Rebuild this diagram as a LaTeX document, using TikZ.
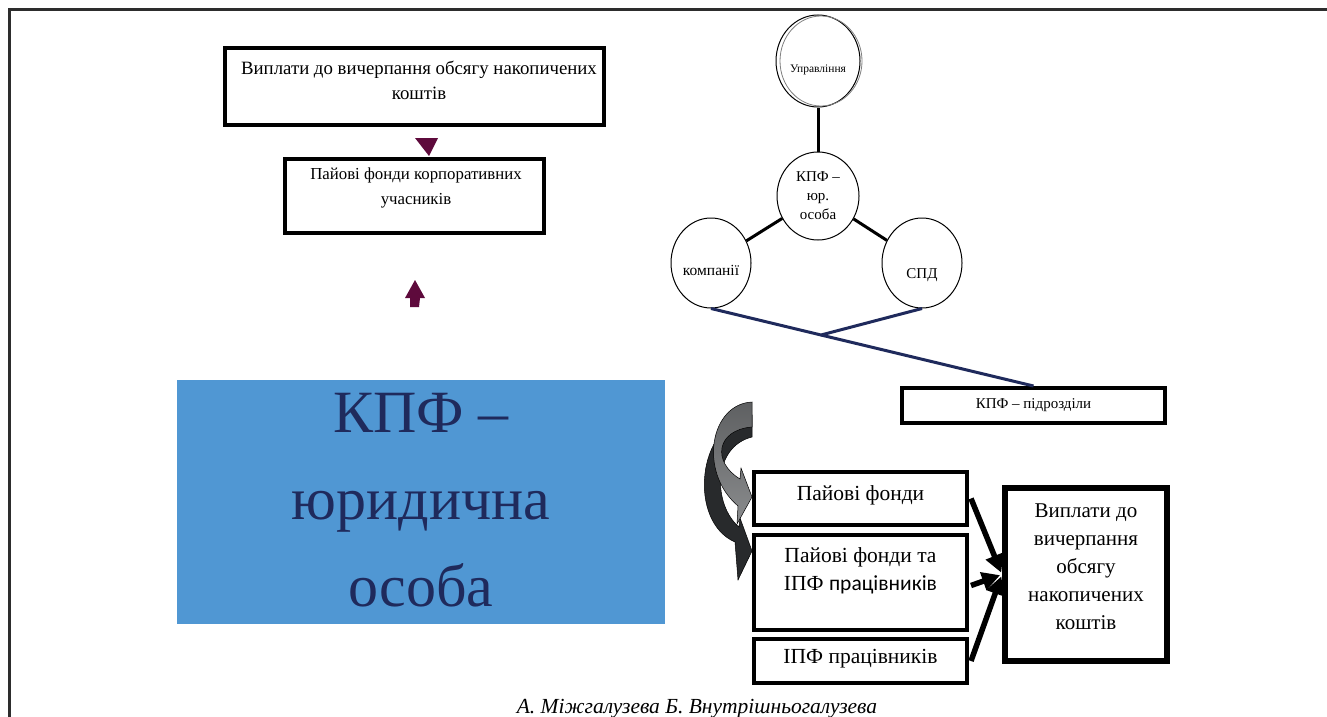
\documentclass[tikz,border=0pt]{standalone}
\usepackage{fontspec}
\setmainfont{Liberation Serif}
\newfontfamily\calibrifont{Carlito}
\usetikzlibrary{shapes.geometric,arrows.meta,calc}
\definecolor{plum}{RGB}{94,10,60}
\definecolor{navyline}{RGB}{31,42,92}
\definecolor{skyfill}{RGB}{80,151,211}
\definecolor{framegray}{RGB}{45,45,45}
\definecolor{lightarrow}{RGB}{118,120,122}
\definecolor{darkarrow}{RGB}{40,42,44}
\tikzset{
  thickbox/.style={draw, line width=4pt, inner sep=0pt, fill=white},
  heavybox/.style={draw, line width=6pt, inner sep=0pt, fill=white},
  oval/.style={draw, ellipse, line width=1pt, inner sep=0pt, fill=white},
  txt/.style={align=center, inner sep=0pt},
  spoke/.style={line width=3pt},
  navyspoke/.style={line width=3pt, draw=navyline},
  fatarrow/.style={line width=5.5pt, -{Triangle[length=18pt,width=18pt]}, shorten >=2pt}
}
\begin{document}
\begin{tikzpicture}[x=1pt,y=-1pt]
\useasboundingbox (0,0) rectangle (1327,717);
% frame
\draw[framegray, line width=3pt] (9,720) -- (9,10) -- (1330,10);

% top-left boxes
\node[thickbox, minimum width=379pt, minimum height=77pt] (pay1) at (414.5,86.5) {};
\node[txt, font=\fontsize{18.8}{25}\selectfont] (pay1t) at (419,80) {Виплати до вичерпання обсягу накопичених\\коштів};
\node[thickbox, minimum width=259pt, minimum height=74pt] (fund1) at (414.5,196) {};
\node[txt, font=\fontsize{16.8}{25}\selectfont] (fund1t) at (416,188) {Пайові фонди корпоративних\\учасників};
\fill[plum] (415,138) -- (438,138) -- (429,156) -- cycle;
\fill[plum] (415,280) -- (425,298) -- (420,298) -- (419,307) -- (410,307) -- (410,298) -- (405,298) -- cycle;

% blue block
\node[fill=skyfill, minimum width=488pt, minimum height=244pt, inner sep=0pt] (legal) at (421,502) {};
\node[txt, text=navyline, font=\fontsize{60}{87}\selectfont] (legalt) at (421,500) {КПФ –\\юридична\\особа};

% ellipses
\node[oval, minimum width=84pt, minimum height=92pt] (upr) at (818,61) {};
\draw[gray, line width=0.8pt] (821,61) ellipse [x radius=41pt, y radius=45pt];
\node[txt, font=\fontsize{11.5}{13}\selectfont] (uprt) at (818,70) {Управління};
\node[oval, minimum width=82pt, minimum height=88pt, font=\fontsize{15}{19}\selectfont, align=center] (kpf) at (818,196) {КПФ –\\юр.\\особа};
\node[oval, minimum width=80pt, minimum height=90pt] (komp) at (711,263) {};
\node[txt, font=\fontsize{15.5}{17}\selectfont] (kompt) at (711,270) {компанії};
\node[oval, minimum width=80pt, minimum height=90pt] (spd) at (922,263) {};
\node[txt, font=\fontsize{15}{17}\selectfont] (spdt) at (922,275) {СПД};
\draw[spoke] (upr.south) -- (kpf.north);
\draw[spoke] (kpf) -- (komp);
\draw[spoke] (kpf) -- (spd);

% subdivisions
\node[thickbox, minimum width=263pt, minimum height=35pt, font=\fontsize{15}{17}\selectfont] (sub) at (1033.5,405.5) {КПФ – підрозділи};
\coordinate (jn) at (821,335);
\draw[navyspoke] (komp.south) -- (jn) -- (spd.south);
\draw[navyspoke] (jn) -- (sub.north);

% curved arrows
\draw[black, line width=0.5pt, fill=darkarrow] (752,415) .. controls (696,424) and (688,522) .. (735,542) -- (738,580) -- (752,551) -- (740,518) -- (739,527) .. controls (713,505) and (712,447) .. (752,437) -- cycle;
\draw[black, line width=0.5pt, top color=lightarrow!80!black, bottom color=lightarrow!85!white] (752,402) .. controls (710,404) and (698,472) .. (738,506) -- (737,524) -- (752,497) -- (741,468) -- (740,479) .. controls (712,462) and (716,430) .. (752,427) -- cycle;

% lower boxes
\node[thickbox, minimum width=213pt, minimum height=53pt] (pf) at (860.5,498.5) {};
\node[txt, font=\fontsize{21.5}{24}\selectfont] (pft) at (860.5,495) {Пайові фонди};
\node[thickbox, minimum width=213pt, minimum height=95pt] (pfipf) at (860.5,582.5) {};
\node[txt, font=\fontsize{21.5}{28}\selectfont] (pfipft) at (860.5,571) {Пайові фонди та\\ІПФ {\calibrifont працівників}};
\node[thickbox, minimum width=213pt, minimum height=44pt] (ipf) at (860.5,661) {};
\node[txt, font=\fontsize{21.5}{24}\selectfont] (ipft) at (860.5,659) {ІПФ працівників};

\node[heavybox, minimum width=162pt, minimum height=173pt] (pay2) at (1086,574.5) {};
\node[txt, font=\fontsize{21}{28}\selectfont] (pay2t) at (1086,567) {Виплати до\\вичерпання\\обсягу\\накопичених\\коштів};

\draw[fatarrow] ($(pf.east)+(2,0)$) -- (pay2.west);
\draw[fatarrow] ($(pfipf.east)+(2,3)$) -- (pay2.west);
\draw[fatarrow] ($(ipf.east)+(2,0)$) -- (pay2.west);

% caption
\node[txt, font=\itshape\fontsize{21.5}{24}\selectfont] (cap) at (697,709) {А. Міжгалузева Б. Внутрішньогалузева};
\end{tikzpicture}
\end{document}
